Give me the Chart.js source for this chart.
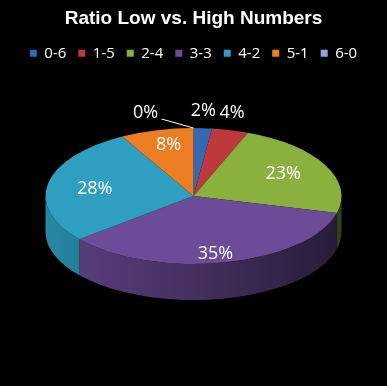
<!DOCTYPE html>
<html><head><meta charset="utf-8">
<script src="https://cdn.jsdelivr.net/npm/chart.js@4/dist/chart.umd.min.js"></script>
<style>html,body{margin:0;padding:0;background:#000;overflow:hidden}canvas{display:block}</style>
</head><body>
<canvas id="c" width="387" height="386"></canvas>
<script>
const categories = ['0-6','1-5','2-4','3-3','4-2','5-1','6-0'];
const values = [2,4,23,35,28,8,0];
const percentLabels = ['2%','4%','23%','35%','28%','8%','0%'];
const colors = ['#3169B5','#BE3A3A','#8AB03D','#6C4B98','#2E9FC0','#ED7D22','#8FA5D6'];
const chartTitle = 'Ratio Low vs. High Numbers';

const RY = 68, DEPTH = 36, CY = 196;

function shade(hex, f){
  const n = parseInt(hex.slice(1),16);
  const r = Math.round(((n>>16)&255)*f), g = Math.round(((n>>8)&255)*f), b = Math.round((n&255)*f);
  return `rgb(${r},${g},${b})`;
}

const pie3d = {
  id:'pie3d',
  beforeDraw(chart){
    const ctx = chart.ctx;
    ctx.save(); ctx.fillStyle='#000'; ctx.fillRect(0,0,chart.width,chart.height); ctx.restore();
  },
  beforeDatasetsDraw(chart){
    const ctx = chart.ctx;
    const meta = chart.getDatasetMeta(0);
    const a0 = meta.data[0];
    const cx = a0.x, cyc = a0.y, r = a0.outerRadius;
    ctx.save();
    meta.data.forEach((arc,i)=>{
      const a1 = Math.max(arc.startAngle, 0), a2 = Math.min(arc.endAngle, Math.PI);
      if (a2 <= a1) return;
      const col = colors[i];
      const g = ctx.createLinearGradient(cx-r,0,cx+r,0);
      g.addColorStop(0, shade(col,0.85));
      g.addColorStop(0.5, shade(col,0.64));
      g.addColorStop(1, shade(col,0.36));
      ctx.fillStyle = g;
      ctx.beginPath();
      ctx.ellipse(cx, CY, r, RY, 0, a1, a2);
      ctx.ellipse(cx, CY+DEPTH, r, RY, 0, a2, a1, true);
      ctx.closePath();
      ctx.fill();
    });
    const k = RY / r;
    ctx.translate(cx, CY); ctx.scale(1, k); ctx.translate(-cx, -cyc);
  },
  afterDatasetsDraw(chart){
    const ctx = chart.ctx;
    ctx.restore();
    const meta = chart.getDatasetMeta(0);
    ctx.save();
    ctx.fillStyle = '#fff';
    ctx.strokeStyle = '#fff';
    ctx.font = '18px "Open Sans"';
    ctx.textAlign = 'center';
    ctx.textBaseline = 'middle';
    meta.data.forEach((arc,i)=>{
      const cx = arc.x, r = arc.outerRadius;
      const mid = (arc.startAngle + arc.endAngle)/2;
      let x, y;
      if (values[i] === 0) {
        const px = cx + r*Math.cos(mid), py = CY + RY*Math.sin(mid);
        x = px - 48; y = py - 15;
        ctx.lineWidth = 1;
        ctx.beginPath(); ctx.moveTo(x+16, y+6); ctx.lineTo(px, py); ctx.stroke();
      } else if (values[i] < 5) {
        x = cx + r*1.05*Math.cos(mid); y = CY + RY*1.26*Math.sin(mid);
      } else {
        x = cx + r*0.68*Math.cos(mid); y = CY + RY*0.82*Math.sin(mid) + 3;
      }
      ctx.fillText(percentLabels[i], x, y);
    });
    ctx.restore();
  }
};

new Chart(document.getElementById('c'), {
  type:'pie',
  data:{ labels: categories, datasets:[{ data: values, backgroundColor: colors, borderWidth:0, radius:148 }]},
  options:{
    responsive:false, animation:false, devicePixelRatio:1, events:[],
    layout:{ padding:{ top:0, bottom:0, left:0, right:0 } },
    plugins:{
      tooltip:{enabled:false},
      title:{ display:true, text: chartTitle, color:'#fff', font:{ family:'"Liberation Sans"', size:19, weight:'bold' }, padding:{top:7,bottom:4} },
      legend:{ position:'top', labels:{ color:'#fff', boxWidth:7, boxHeight:7, padding:12, font:{ family:'"Open Sans"', size:15 } } }
    }
  },
  plugins:[pie3d]
});
</script>
</body></html>
